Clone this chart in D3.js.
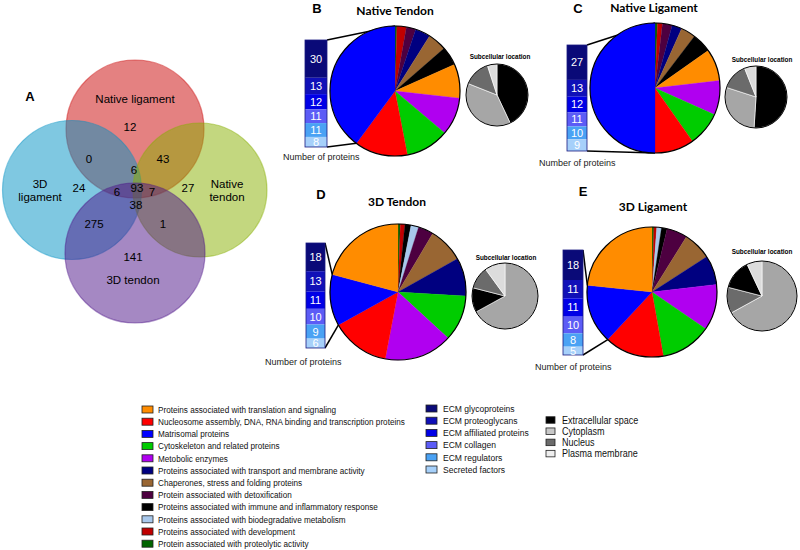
<!DOCTYPE html>
<html><head><meta charset="utf-8">
<script src="https://cdn.jsdelivr.net/npm/d3@7"></script>
<style>body{margin:0;background:#fff}svg{display:block}</style>
</head><body><svg id="c" width="800" height="550"></svg>
<script>
// ---------------- DATA ----------------
const categories = [
  "Proteins associated with translation and signaling",
  "Nucleosome assembly, DNA, RNA binding and transcription proteins",
  "Matrisomal proteins",
  "Cytoskeleton and related proteins",
  "Metobolic enzymes",
  "Proteins associated with transport and membrane activity",
  "Chaperones, stress and folding proteins",
  "Protein associated with detoxification",
  "Proteins associated with immune and inflammatory response",
  "Proteins associated with biodegradative metabolism",
  "Proteins associated with development",
  "Protein associated with proteolytic activity"
];
const matrisomeCategories = ["ECM glycoproteins","ECM proteoglycans","ECM affiliated proteins","ECM collagen","ECM regulators","Secreted factors"];
const subcellularCategories = ["Extracellular space","Cytoplasm","Nucleus","Plasma membrane"];

const panelLetters = ["B","C","D","E"];
const panelTitles = ["Native Tendon","Native Ligament","3D Tendon","3D Ligament"];

// protein counts per category (legend order)
const nativeTendonCounts   = [18, 28, 85, 23, 20,  8, 10,  5, 10,  0, 5, 1];
const nativeLigamentCounts = [13, 16, 82, 14, 14,  4,  6,  4,  8,  0, 2, 1];
const tendon3DCounts       = [115,77, 67, 60, 89, 50, 46, 20,  8, 10, 6, 3];
const ligament3DCounts     = [100,63, 63, 54, 49, 31, 30, 22,  6,  5, 3, 2];
// clockwise slice order (category indices)
const nativeTendonOrder   = [11,10,7,5,6,8,0,4,3,1,2];
const nativeLigamentOrder = [11,10,7,5,6,8,0,4,3,1,2];
const tendon3DOrder       = [11,10,8,9,7,6,5,3,4,1,2,0];
const ligament3DOrder     = [11,10,9,8,7,6,5,4,3,1,2,0];

// matrisome breakdown (number of proteins)
const nativeTendonMatrisome   = [30,13,12,11,11,8];
const nativeLigamentMatrisome = [27,13,12,11,10,9];
const tendon3DMatrisome       = [18,13,11,10,9,6];
const ligament3DMatrisome     = [18,11,11,10,8,5];

// subcellular location (%)
const nativeTendonSubcell   = [43,38,14,5];
const nativeLigamentSubcell = [51,29,14,6];
const tendon3DSubcell       = [12,67,11,10];
const ligament3DSubcell     = [14,67,12,7];
const nativeTendonSubOrder   = [0,1,2,3];
const nativeLigamentSubOrder = [0,1,2,3];
const tendon3DSubOrder       = [1,0,2,3];
const ligament3DSubOrder     = [1,2,0,3];

// Venn
const vennSets = ["Native ligament","3D ligament","Native tendon","3D tendon"];
const vennRegionCounts = [12,0,43,6,24,6,93,7,27,38,275,1,141];

// ---------------- STYLES / LAYOUT ----------------
const catColors = ["#ff8c00","#ff0000","#0000ff","#00cc00","#b000f0","#000080","#996633","#4d0040","#000000","#a8c8ec","#c00000","#006400"];
const matColors = ["#0a0a78","#1010b8","#0000e6","#5c5cf6","#4aa2f4","#a6d0fa"];
const subColors = ["#000000","#a6a6a6","#6b6b6b","#dcdcdc"];
const subLegendColors = ["#000000","#c8c8c8","#6b6b6b","#eeeeee"];

const svg = d3.select("#c");
const FONT = "'Liberation Sans', Arial, sans-serif";

// ---------------- VENN ----------------
const vennCircles = [
  {cx:135, cy:129, r:69, color:"rgb(201,4,4)"},
  {cx:72,  cy:190, r:69.5, color:"rgb(0,145,195)"},
  {cx:200, cy:190, r:67, color:"rgb(135,175,0)"},
  {cx:135, cy:253, r:70, color:"rgb(75,18,135)"}
];
const vg = svg.append("g");
vg.selectAll("circle").data(vennCircles).join("circle")
  .attr("cx",d=>d.cx).attr("cy",d=>d.cy).attr("r",d=>d.r)
  .attr("fill",d=>d.color).attr("fill-opacity",0.5)
  .attr("stroke",d=>d.color).attr("stroke-opacity",0.45).attr("stroke-width",1.2);

const vennRegionPos = [[130,127],[89,159],[163,159],[134,170],[79,188],[117,192],[137,188],[152,192],[188,188],[136,205],[94,224],[163,224],[133,257]];
vg.selectAll("text.vn").data(vennRegionCounts).join("text").attr("class","vn")
  .attr("x",(d,i)=>vennRegionPos[i][0]).attr("y",(d,i)=>vennRegionPos[i][1])
  .attr("dy","0.35em").attr("text-anchor","middle")
  .style("font-family",FONT).style("font-size","11.5px").text(d=>d);
const vennLabelPos = [[[135,99]],[[40,184],[40,197]],[[227,184],[227,197]],[[133,280]]];
const vennLabelLines = [["Native ligament"],["3D","ligament"],["Native","tendon"],["3D tendon"]];
vennSets.forEach((s,i)=>{
  vennLabelLines[i].forEach((ln,j)=>{
    vg.append("text").attr("x",vennLabelPos[i][j][0]).attr("y",vennLabelPos[i][j][1])
      .attr("dy","0.35em").attr("text-anchor","middle")
      .style("font-family",FONT).style("font-size","11.5px").text(ln);
  });
});
svg.append("text").attr("x",30).attr("y",96).attr("dy","0.35em").attr("text-anchor","middle")
  .style("font-family",FONT).style("font-weight","bold").style("font-size","13px").text("A");

// ---------------- PIES ----------------
const panelLayouts = [
  {letter:[317,8], title:[395,11], cx:395, cy:91, r:65, bar:{x:305,w:22,top:40,bottom:147}, sub:{cx:497,cy:95,r:31,label:[500,57]}, nop:[283,157]},
  {letter:[578,8], title:[654,8], cx:655, cy:88, r:65, bar:{x:567,w:20,top:45,bottom:151}, sub:{cx:756,cy:97,r:31,label:[762,60]}, nop:[539,163]},
  {letter:[321,194], title:[397,202], cx:398, cy:292, r:68, bar:{x:306,w:19,top:243,bottom:348}, sub:{cx:505,cy:296,r:33,label:[506,258]}, nop:[265,362]},
  {letter:[583,191], title:[653,207], cx:652, cy:292, r:65, bar:{x:563,w:20,top:250,bottom:355}, sub:{cx:762,cy:296,r:35,label:[762,252]}, nop:[535,367]}
];
const panelCounts = [nativeTendonCounts,nativeLigamentCounts,tendon3DCounts,ligament3DCounts];
const panelOrders = [nativeTendonOrder,nativeLigamentOrder,tendon3DOrder,ligament3DOrder];
const panelMat = [nativeTendonMatrisome,nativeLigamentMatrisome,tendon3DMatrisome,ligament3DMatrisome];
const panelSub = [nativeTendonSubcell,nativeLigamentSubcell,tendon3DSubcell,ligament3DSubcell];
const panelSubOrder = [nativeTendonSubOrder,nativeLigamentSubOrder,tendon3DSubOrder,ligament3DSubOrder];

const pie = d3.pie().sort(null).value(d=>d.value);

panelLayouts.forEach((L,p)=>{
  const g = svg.append("g");
  g.append("text").attr("x",L.letter[0]).attr("y",L.letter[1]).attr("dy","0.35em").attr("text-anchor","middle")
    .style("font-family",FONT).style("font-weight","bold").style("font-size","13px").text(panelLetters[p]);
  g.append("text").attr("x",L.title[0]).attr("y",L.title[1]).attr("dy","0.35em").attr("text-anchor","middle")
    .style("font-family","Lato, 'Open Sans', sans-serif").style("font-weight","bold").style("font-size","12px").text(panelTitles[p]);

  const data = panelOrders[p].map(i=>({cat:i, value:panelCounts[p][i]}));
  const arcs = pie(data);
  const arc = d3.arc().innerRadius(0).outerRadius(L.r);
  const blue = arcs.find(a=>a.data.cat===2);
  const pt = a => [L.cx + L.r*Math.sin(a), L.cy - L.r*Math.cos(a)];

  // matrisome bar
  const mat = panelMat[p];
  const total = d3.sum(mat);
  const y = d3.scaleLinear().domain([0,total]).range([L.bar.top, L.bar.bottom]);
  const cum = d3.cumsum(mat);
  const segs = mat.map((v,i)=>({v, i, y0:y(cum[i]-v), y1:y(cum[i])}));
  const bx = L.bar.x, bw = L.bar.w;
  // connector lines
  const pTop = pt(blue.endAngle), pBot = pt(blue.startAngle);
  g.append("line").attr("x1",bx+bw).attr("y1",L.bar.top).attr("x2",pTop[0]).attr("y2",pTop[1])
    .attr("stroke","#000").attr("stroke-width",1.5);
  g.append("line").attr("x1",bx+bw).attr("y1",L.bar.bottom).attr("x2",pBot[0]).attr("y2",pBot[1])
    .attr("stroke","#000").attr("stroke-width",1.5);
  g.selectAll("rect.seg").data(segs).join("rect").attr("class","seg")
    .attr("x",bx).attr("y",d=>d.y0).attr("width",bw).attr("height",d=>d.y1-d.y0)
    .attr("fill",d=>matColors[d.i]);
  g.append("rect").attr("x",bx).attr("y",L.bar.top).attr("width",bw).attr("height",L.bar.bottom-L.bar.top)
    .attr("fill","none").attr("stroke","#1a1a80").attr("stroke-width",0.8);
  g.selectAll("text.seg").data(segs).join("text").attr("class","seg")
    .attr("x",bx+bw/2).attr("y",d=>(d.y0+d.y1)/2).attr("dy","0.36em").attr("text-anchor","middle")
    .attr("fill","#fff").style("font-family",FONT).style("font-size","11px").text(d=>d.v);

  // main pie
  const pg = g.append("g").attr("transform",`translate(${L.cx},${L.cy})`);
  pg.selectAll("path").data(arcs).join("path").attr("d",arc)
    .attr("fill",d=>catColors[d.data.cat]).attr("stroke",d=>catColors[d.data.cat]).attr("stroke-width",0.3);
  pg.append("circle").attr("r",L.r).attr("fill","none").attr("stroke","#000").attr("stroke-width",1.2);

  // subcellular pie
  const sd = panelSubOrder[p].map(i=>({cat:i, value:panelSub[p][i]}));
  const sarcs = pie(sd);
  const sarc = d3.arc().innerRadius(0).outerRadius(L.sub.r);
  const sg = g.append("g").attr("transform",`translate(${L.sub.cx},${L.sub.cy})`);
  sg.selectAll("path").data(sarcs).join("path").attr("d",sarc)
    .attr("fill",d=>subColors[d.data.cat]).attr("stroke","#fff").attr("stroke-width",0.6);
  sg.append("circle").attr("r",L.sub.r).attr("fill","none").attr("stroke","#000").attr("stroke-width",1);
  g.append("text").attr("x",L.sub.label[0]).attr("y",L.sub.label[1]).attr("dy","0.35em").attr("text-anchor","middle")
    .style("font-family",FONT).style("font-weight","bold").style("font-size","6.4px").text("Subcellular location");

  g.append("text").attr("x",L.nop[0]).attr("y",L.nop[1]).attr("dy","0.35em")
    .style("font-family",FONT).style("font-size","9px").attr("fill","#222").text("Number  of proteins");
});

// ---------------- LEGENDS ----------------
function legend(items, colors, x, y0, dy, sw, sh, tx, fs, sx) {
  const g = svg.append("g");
  const rows = g.selectAll("g").data(items).join("g")
    .attr("transform",(d,i)=>`translate(0,${y0+i*dy})`);
  rows.append("rect").attr("x",x).attr("y",-sh/2).attr("width",sw).attr("height",sh)
    .attr("fill",(d,i)=>colors[i]).attr("stroke","#222").attr("stroke-width",0.8);
  rows.append("text").attr("transform",`translate(${tx},0) scale(${sx},1)`).attr("dy","0.35em")
    .style("font-family",FONT).style("font-size",fs+"px").attr("fill","#111").text(d=>d);
}
legend(categories, catColors, 142, 409.5, 12.2, 11, 7, 158, 9.5, 0.86);
legend(matrisomeCategories, matColors, 426, 408.5, 12.2, 11, 7, 443, 9.5, 0.9);
legend(subcellularCategories, subLegendColors, 546, 420, 11.2, 9, 6.5, 562, 10.5, 0.86);
</script></body></html>
